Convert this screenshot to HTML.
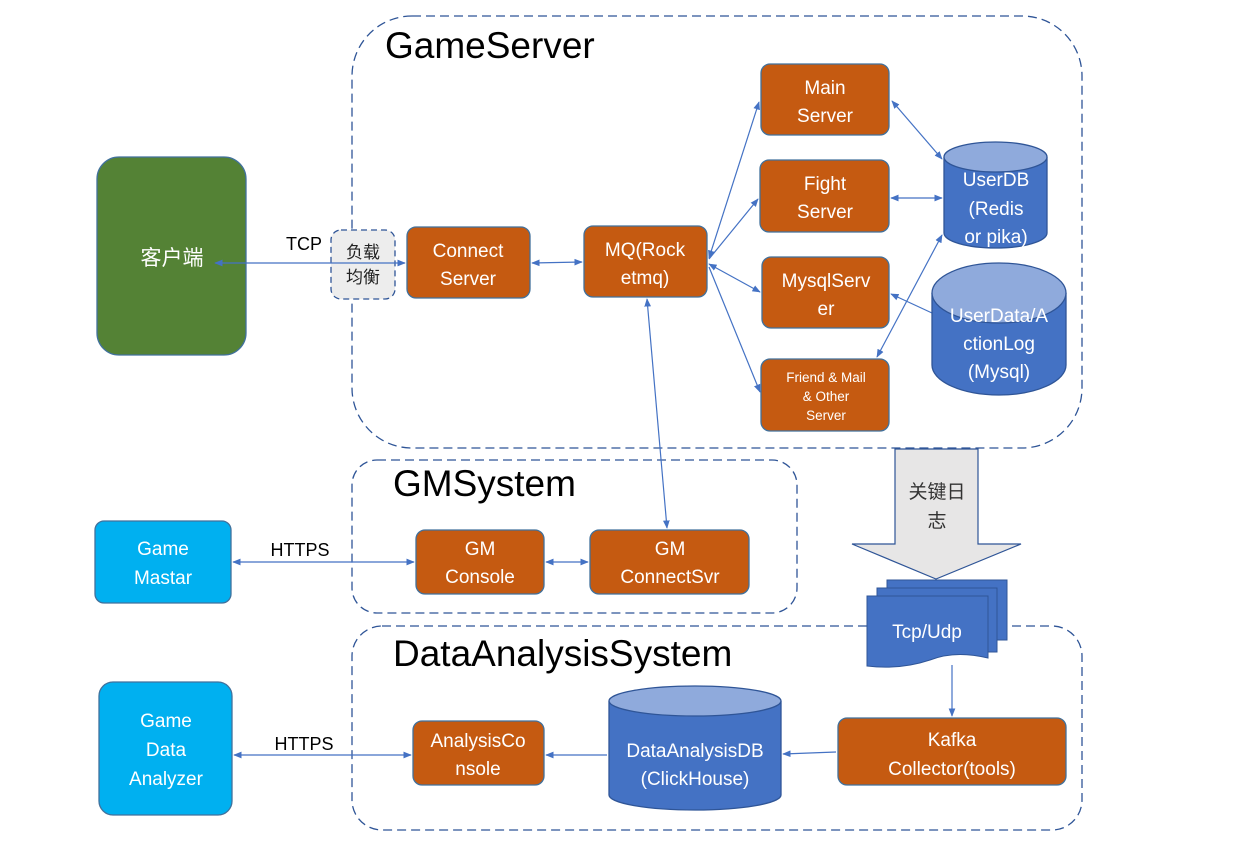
<!DOCTYPE html>
<html><head><meta charset="utf-8"><style>
html,body{margin:0;padding:0;background:#fff;}
svg{display:block;font-family:"Liberation Sans","Noto Sans CJK SC",sans-serif;}
.b{fill:#c55a11;stroke:#41719c;stroke-width:1.3;}
.t{fill:#fff;font-size:19px;text-anchor:middle;}
.s{font-size:13.5px;}
.l{stroke:#4472c4;stroke-width:1.2;fill:none;}
.d{fill:none;stroke:#2f5597;stroke-width:1.3;stroke-dasharray:9,5;}
</style></head><body>
<svg width="1247" height="857" viewBox="0 0 1247 857">
<defs>
<marker id="a" viewBox="0 0 10 10" refX="9" refY="5" markerWidth="7" markerHeight="7" orient="auto-start-reverse"><path d="M0,1 L10,5 L0,9 z" fill="#4472c4"/></marker>
</defs>
<rect class="d" x="352" y="16" width="730" height="432" rx="60"/>
<rect class="d" x="352" y="460" width="445" height="153" rx="25"/>
<rect class="d" x="352" y="626" width="730" height="204" rx="30"/>
<text x="385" y="58" font-size="37" fill="#000">GameServer</text>
<text x="393" y="496" font-size="37" fill="#000">GMSystem</text>
<text x="393" y="666" font-size="37" fill="#000">DataAnalysisSystem</text>

<rect x="97" y="157" width="149" height="198" rx="22" fill="#548235" stroke="#41719c" stroke-width="1.3"/>
<text class="t" x="172" y="265" style="font-size:21px">客户端</text>
<rect x="331" y="230" width="64" height="69" rx="10" fill="#ededed" stroke="#2f5597" stroke-width="1.3" stroke-dasharray="6,4"/>
<text x="363" y="258" font-size="17" text-anchor="middle" fill="#222">负载</text>
<text x="363" y="283" font-size="17" text-anchor="middle" fill="#222">均衡</text>
<text x="304" y="250" font-size="18" text-anchor="middle">TCP</text>
<line class="l" x1="215" y1="263" x2="405" y2="263" marker-start="url(#a)" marker-end="url(#a)"/>

<rect class="b" x="407" y="227" width="123" height="71" rx="9"/>
<text class="t" x="468" y="257">Connect</text><text class="t" x="468" y="285">Server</text>
<rect class="b" x="584" y="226" width="123" height="71" rx="9"/>
<text class="t" x="645" y="256">MQ(Rock</text><text class="t" x="645" y="284">etmq)</text>
<line class="l" x1="532" y1="263" x2="582" y2="262" marker-start="url(#a)" marker-end="url(#a)"/>

<rect class="b" x="761" y="64" width="128" height="71" rx="9"/>
<text class="t" x="825" y="94">Main</text><text class="t" x="825" y="122">Server</text>
<rect class="b" x="760" y="160" width="129" height="72" rx="9"/>
<text class="t" x="825" y="190">Fight</text><text class="t" x="825" y="218">Server</text>
<rect class="b" x="762" y="257" width="127" height="71" rx="9"/>
<text class="t" x="826" y="287">MysqlServ</text><text class="t" x="826" y="315">er</text>
<rect class="b" x="761" y="359" width="128" height="72" rx="9"/>
<text class="t s" x="826" y="382">Friend &amp; Mail</text>
<text class="t s" x="826" y="401">&amp; Other</text>
<text class="t s" x="826" y="420">Server</text>

<line class="l" x1="709" y1="258" x2="759" y2="102" marker-start="url(#a)" marker-end="url(#a)"/>
<line class="l" x1="709" y1="259" x2="758" y2="199" marker-end="url(#a)"/>
<line class="l" x1="709" y1="264" x2="760" y2="292" marker-start="url(#a)" marker-end="url(#a)"/>
<line class="l" x1="709" y1="267" x2="760" y2="392" marker-end="url(#a)"/>
<line class="l" x1="892" y1="101" x2="942" y2="159" marker-start="url(#a)" marker-end="url(#a)"/>
<line class="l" x1="891" y1="198" x2="942" y2="198" marker-start="url(#a)" marker-end="url(#a)"/>
<line class="l" x1="877" y1="357" x2="942" y2="235" marker-start="url(#a)" marker-end="url(#a)"/>
<line class="l" x1="932" y1="313" x2="891" y2="294" marker-end="url(#a)"/>

<path d="M944,157 L944,233 A51.5,15 0 0 0 1047,233 L1047,157" fill="#4472c4" stroke="#2f5597" stroke-width="1.3"/>
<ellipse cx="995.5" cy="157" rx="51.5" ry="15" fill="#8faadc" stroke="#2f5597" stroke-width="1.3"/>
<text class="t" x="996" y="186">UserDB</text><text class="t" x="996" y="215">(Redis</text><text class="t" x="996" y="243">or pika)</text>
<path d="M932,293 L932,365 A67,30 0 0 0 1066,365 L1066,293" fill="#4472c4" stroke="#2f5597" stroke-width="1.3"/>
<ellipse cx="999" cy="293" rx="67" ry="30" fill="#8faadc" stroke="#2f5597" stroke-width="1.3"/>
<text class="t" x="999" y="322">UserData/A</text><text class="t" x="999" y="350">ctionLog</text><text class="t" x="999" y="378">(Mysql)</text>

<rect x="95" y="521" width="136" height="82" rx="9" fill="#00b0f0" stroke="#41719c" stroke-width="1.3"/>
<text class="t" x="163" y="555">Game</text><text class="t" x="163" y="584">Mastar</text>
<rect class="b" x="416" y="530" width="128" height="64" rx="9"/>
<text class="t" x="480" y="555">GM</text><text class="t" x="480" y="583">Console</text>
<rect class="b" x="590" y="530" width="159" height="64" rx="9"/>
<text class="t" x="670" y="555">GM</text><text class="t" x="670" y="583">ConnectSvr</text>
<text x="300" y="556" font-size="18" text-anchor="middle">HTTPS</text>
<line class="l" x1="233" y1="562" x2="414" y2="562" marker-start="url(#a)" marker-end="url(#a)"/>
<line class="l" x1="546" y1="562" x2="588" y2="562" marker-start="url(#a)" marker-end="url(#a)"/>
<line class="l" x1="667" y1="528" x2="647" y2="299" marker-start="url(#a)" marker-end="url(#a)"/>

<path d="M895,449 L978,449 L978,544 L1021,544 L936,579 L852,544 L895,544 Z" fill="#e7e6e6" stroke="#2f5597" stroke-width="1.2"/>
<text x="937" y="498" font-size="19" text-anchor="middle" fill="#333">关键日</text>
<text x="937" y="527" font-size="19" text-anchor="middle" fill="#333">志</text>
<rect x="887" y="580" width="120" height="60" fill="#4472c4" stroke="#2f5597"/>
<rect x="877" y="588" width="120" height="64" fill="#4472c4" stroke="#2f5597"/>
<path d="M867,596 L988,596 L988,658 Q955,650 930,660 Q900,670 867,666 Z" fill="#4472c4" stroke="#2f5597"/>
<text class="t" x="927" y="638">Tcp/Udp</text>
<line class="l" x1="952" y1="665" x2="952" y2="716" marker-end="url(#a)"/>

<rect x="99" y="682" width="133" height="133" rx="14" fill="#00b0f0" stroke="#41719c" stroke-width="1.3"/>
<text class="t" x="166" y="727">Game</text><text class="t" x="166" y="756">Data</text><text class="t" x="166" y="785">Analyzer</text>
<rect class="b" x="413" y="721" width="131" height="64" rx="9"/>
<text class="t" x="478" y="747">AnalysisCo</text><text class="t" x="478" y="775">nsole</text>
<text x="304" y="750" font-size="18" text-anchor="middle">HTTPS</text>
<line class="l" x1="234" y1="755" x2="411" y2="755" marker-start="url(#a)" marker-end="url(#a)"/>
<path d="M609,701 L609,795 A86,15 0 0 0 781,795 L781,701" fill="#4472c4" stroke="#2f5597" stroke-width="1.3"/>
<ellipse cx="695" cy="701" rx="86" ry="15" fill="#8faadc" stroke="#2f5597" stroke-width="1.3"/>
<text class="t" x="695" y="757">DataAnalysisDB</text><text class="t" x="695" y="785">(ClickHouse)</text>
<line class="l" x1="607" y1="755" x2="546" y2="755" marker-end="url(#a)"/>
<rect class="b" x="838" y="718" width="228" height="67" rx="9"/>
<text class="t" x="952" y="746">Kafka</text><text class="t" x="952" y="775">Collector(tools)</text>
<line class="l" x1="836" y1="752" x2="783" y2="754" marker-end="url(#a)"/>
</svg>
</body></html>
